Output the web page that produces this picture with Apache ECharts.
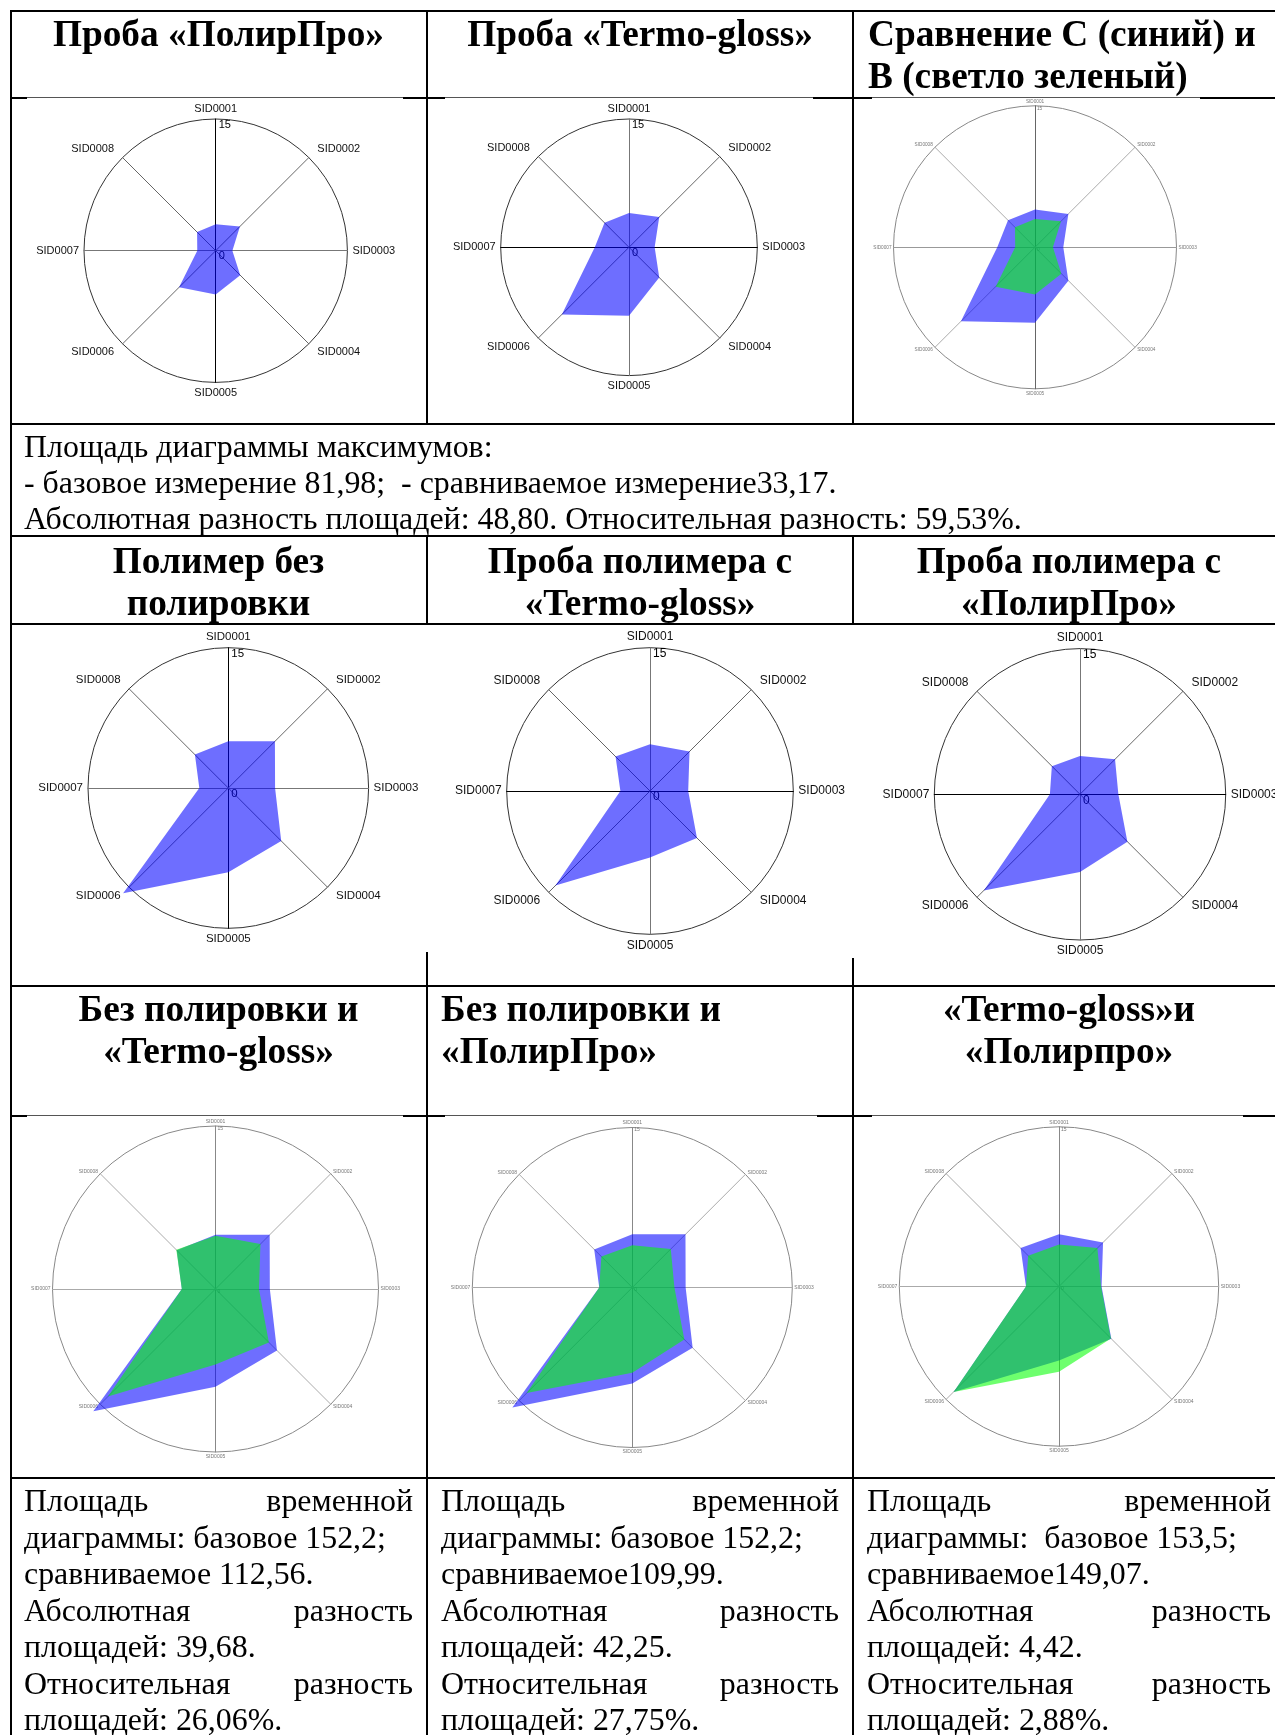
<!DOCTYPE html>
<html>
<head>
<meta charset="utf-8">
<script src="https://cdn.jsdelivr.net/npm/echarts@6.0.0/dist/echarts.min.js"></script>
<style>
html, body { margin: 0; padding: 0; background: #fff; }
body { width: 1275px; height: 1735px; overflow: hidden; position: relative; }
#chart { position: absolute; left: 0; top: 0; width: 1275px; height: 1735px; }
.ln { position: absolute; }
.t { position: absolute; font-family: 'Liberation Serif', 'Times New Roman', serif; color: #000; white-space: nowrap; }
.hd { font-size: 37.3px; font-weight: bold; line-height: 42px; }
.bd { font-size: 31.9px; line-height: 36.5px; }
.j { text-align: justify; text-align-last: justify; }
</style>
</head>
<body>
<div id="chart"></div>

<!-- headers -->
<div class="t hd" style="left:10px;width:417px;top:13px;text-align:center">Проба «ПолирПро»</div>
<div class="t hd" style="left:427px;width:426px;top:13px;text-align:center">Проба «Termo-gloss»</div>
<div class="t hd" style="left:868px;top:13px">Сравнение С (синий) и<br>В (светло зеленый)</div>

<div class="t bd" style="left:24px;top:429px;line-height:36px">Площадь диаграммы максимумов:<br>- базовое измерение 81,98;&nbsp; - сравниваемое измерение33,17.<br>Абсолютная разность площадей: 48,80. Относительная разность: 59,53%.</div>

<div class="t hd" style="left:10px;width:417px;top:540px;text-align:center">Полимер без<br>полировки</div>
<div class="t hd" style="left:427px;width:426px;top:540px;text-align:center">Проба полимера с<br>«Termo-gloss»</div>
<div class="t hd" style="left:853px;width:432px;top:540px;text-align:center">Проба полимера с<br>«ПолирПро»</div>

<div class="t hd" style="left:10px;width:417px;top:988px;text-align:center">Без полировки и<br>«Termo-gloss»</div>
<div class="t hd" style="left:441px;top:988px">Без полировки и<br>«ПолирПро»</div>
<div class="t hd" style="left:853px;width:432px;top:988px;text-align:center">«Termo-gloss»и<br>«Полирпро»</div>

<!-- bottom notes -->
<div class="t bd" style="left:24px;width:389px;top:1483px">
  <div class="j">Площадь временной</div><div>диаграммы: базовое 152,2;</div><div>сравниваемое 112,56.</div>
  <div class="j">Абсолютная разность</div><div>площадей: 39,68.</div>
  <div class="j">Относительная разность</div><div>площадей: 26,06%.</div>
</div>
<div class="t bd" style="left:441px;width:398px;top:1483px">
  <div class="j">Площадь временной</div><div>диаграммы: базовое 152,2;</div><div>сравниваемое109,99.</div>
  <div class="j">Абсолютная разность</div><div>площадей: 42,25.</div>
  <div class="j">Относительная разность</div><div>площадей: 27,75%.</div>
</div>
<div class="t bd" style="left:867px;width:404px;top:1483px">
  <div class="j">Площадь временной</div><div>диаграммы:&nbsp; базовое 153,5;</div><div>сравниваемое149,07.</div>
  <div class="j">Абсолютная разность</div><div>площадей: 4,42.</div>
  <div class="j">Относительная разность</div><div>площадей: 2,88%.</div>
</div>

<script>
// axes and values (scale 0..15)
const sidNames = ['SID0001', 'SID0002', 'SID0003', 'SID0004', 'SID0005', 'SID0006', 'SID0007', 'SID0008']
const radarTicks = [0, 15]

const probaPolirPro = [3.0, 3.9, 1.9, 3.95, 5.0, 5.9, 2.1, 3.0]
const probaTermoGloss = [4.0, 5.0, 3.0, 5.0, 8.0, 11.1, 4.0, 4.05]
const polimerBez = [5.0, 7.05, 5.0, 8.0, 9.0, 15.9, 3.1, 5.05]
const polimerTermoGloss = [4.9, 5.85, 4.0, 6.95, 6.95, 14.0, 3.1, 5.1]
const polimerPolirPro = [3.95, 5.1, 3.95, 6.9, 8.0, 14.0, 3.1, 4.1]

const BLUE = '#0000ff'
const GREEN = '#00ff00'

// radar lays its axes anticlockwise, the pictures go clockwise
const order = [0, 7, 6, 5, 4, 3, 2, 1]
function clockwise(arr) {
  return order.map(i => arr[i])
}

// where each picture sits on the page
const panels = [
  { center: [215.7, 250.7], radius: 131.7, font: 11, gap: 5, sharp: true, vAxis: '#000', hAxis: '#777',
    sets: [[probaPolirPro, BLUE]] },
  { center: [629, 247.3], radius: 128.3, font: 11, gap: 5, sharp: true, vAxis: '#777', hAxis: '#000',
    sets: [[probaTermoGloss, BLUE]] },
  { center: [1035, 247.3], radius: 141.5, font: 4.7, gap: 2, sharp: false, vAxis: '#666', hAxis: '#999',
    sets: [[probaTermoGloss, BLUE], [probaPolirPro, GREEN]] },
  { center: [228.3, 788], radius: 140.3, font: 11.5, gap: 5, sharp: true, vAxis: '#000', hAxis: '#777',
    sets: [[polimerBez, BLUE]] },
  { center: [650, 791], radius: 143.3, font: 12, gap: 5, sharp: true, vAxis: '#777', hAxis: '#000',
    sets: [[polimerTermoGloss, BLUE]] },
  { center: [1080, 794.3], radius: 145.7, font: 12, gap: 5, sharp: true, vAxis: '#777', hAxis: '#000',
    sets: [[polimerPolirPro, BLUE]] },
  { center: [215.5, 1289], radius: 163, font: 5, gap: 2, sharp: false, vAxis: '#888', hAxis: '#aaa',
    sets: [[polimerBez, BLUE], [polimerTermoGloss, GREEN]] },
  { center: [632.3, 1287.5], radius: 160, font: 5, gap: 2, sharp: false, vAxis: '#888', hAxis: '#aaa',
    sets: [[polimerBez, BLUE], [polimerPolirPro, GREEN]] },
  { center: [1059, 1286.5], radius: 159.7, font: 5, gap: 2, sharp: false, vAxis: '#888', hAxis: '#aaa',
    sets: [[polimerTermoGloss, BLUE], [polimerPolirPro, GREEN]] }
]

const radars = []
const series = []
panels.forEach((p, k) => {
  const indicator = clockwise(sidNames).map((n, i) => {
    const ind = { name: n, min: radarTicks[0], max: radarTicks[radarTicks.length - 1] }
    if (i === 0) {
      ind.axisLabel = {
        show: true,
        color: p.sharp ? '#000' : '#777',
        fontSize: p.font,
        fontFamily: 'Liberation Sans, Arial, sans-serif',
        align: 'left',
        verticalAlign: 'top',
        margin: p.sharp ? -3 : -2
      }
    }
    // diagonal names sit a bit further out
    if (i % 2 === 1) ind.nameGap = p.sharp ? 12 : 3
    if (i === 0 || i === 4) ind.axisLine = { lineStyle: { color: p.vAxis } }
    if (i === 2 || i === 6) ind.axisLine = { lineStyle: { color: p.hAxis } }
    return ind
  })
  radars.push({
    center: p.center,
    radius: p.radius,
    shape: 'circle',
    splitNumber: radarTicks.length - 1,
    nameGap: p.gap,
    indicator: indicator,
    axisName: {
      color: p.sharp ? '#111' : '#777',
      fontSize: p.font,
      fontFamily: 'Liberation Sans, Arial, sans-serif'
    },
    axisLine: { lineStyle: { color: p.sharp ? '#666' : '#aaa', width: 1 } },
    axisTick: { show: false },
    axisLabel: { show: false },
    splitLine: { lineStyle: { color: p.sharp ? '#333' : '#888', width: 1 } },
    splitArea: { show: false }
  })
  series.push({
    type: 'radar',
    radarIndex: k,
    silent: true,
    symbol: 'none',
    data: p.sets.map(s => ({
      value: clockwise(s[0]),
      lineStyle: { opacity: 0 },
      areaStyle: { color: s[1], opacity: 0.57 }
    }))
  })
})

const chart = echarts.init(document.getElementById('chart'))
chart.setOption({
  animation: false,
  radar: radars,
  series: series
})

// table rules: [x1, x2, y, thin]
const hLines = [
  [10, 1285, 11, 0],
  [10, 27, 97.5, 0], [27, 403, 97.5, 1], [403, 445, 97.5, 0], [445, 813, 97.5, 1],
  [813, 872, 97.5, 0], [872, 1200, 97.5, 1], [1200, 1285, 97.5, 0],
  [10, 1285, 424, 0],
  [10, 1285, 536, 0],
  [10, 1285, 624, 0],
  [10, 1285, 986, 0],
  [10, 27, 1115.5, 0], [27, 403, 1115.5, 1], [403, 445, 1115.5, 0], [445, 817, 1115.5, 1],
  [817, 872, 1115.5, 0], [872, 1243, 1115.5, 1], [1243, 1285, 1115.5, 0],
  [10, 1285, 1478, 0]
]
// [x, y1, y2]
const vLines = [
  [10.5, 11, 1735],
  [427, 11, 424], [427, 536, 624], [427, 952, 1735],
  [853, 11, 424], [853, 536, 624], [853, 958, 1735]
]
hLines.forEach(l => {
  const d = document.createElement('div')
  d.className = 'ln'
  const w = l[3] ? 1 : 2
  d.style.cssText = 'left:' + l[0] + 'px;width:' + (l[1] - l[0]) + 'px;top:' + (l[2] - w / 2) + 'px;height:' + w + 'px;background:' + (l[3] ? '#555' : '#000')
  document.body.appendChild(d)
})
vLines.forEach(l => {
  const d = document.createElement('div')
  d.className = 'ln'
  d.style.cssText = 'left:' + (l[0] - 1) + 'px;width:2px;top:' + l[1] + 'px;height:' + (l[2] - l[1]) + 'px;background:#000'
  document.body.appendChild(d)
})
</script>
</body>
</html>
